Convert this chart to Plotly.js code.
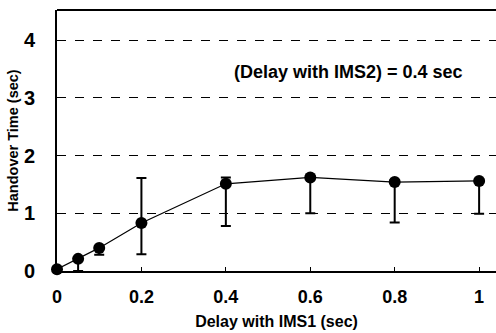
<!DOCTYPE html>
<html><head><meta charset="utf-8">
<script src="https://cdn.plot.ly/plotly-3.0.1.min.js"></script>
<style>html,body{margin:0;padding:0;background:#fff}#chart{width:496px;height:333px}</style>
</head><body><div id="chart"></div>
<script>
var delayIMS1 = [0, 0.05, 0.1, 0.2, 0.4, 0.6, 0.8, 1.0];
var handoverTime = [0.03, 0.21, 0.40, 0.83, 1.51, 1.62, 1.54, 1.56];
var errPlus = [0.0, 0.03, 0.02, 0.78, 0.11, 0.03, 0.03, 0.03];
var errMinus = [0.03, 0.21, 0.12, 0.54, 0.73, 0.62, 0.70, 0.57];
var xTickVals = [0, 0.2, 0.4, 0.6, 0.8, 1];
var xTickText = ['0', '0.2', '0.4', '0.6', '0.8', '1'];
var yTickVals = [0, 1, 2, 3, 4];
var noteText = '(Delay with IMS2) = 0.4 sec';

var font = 'Liberation Sans, Arial, sans-serif';
var trace = {
  x: delayIMS1, y: handoverTime, type: 'scatter', mode: 'lines+markers',
  line: {color: '#000', width: 1.2},
  marker: {color: '#000', size: 12},
  error_y: {type: 'data', symmetric: false, array: errPlus, arrayminus: errMinus,
            color: '#000', thickness: 2, width: 5},
  cliponaxis: false, showlegend: false
};
var layout = {
  width: 496, height: 333,
  margin: {l: 57, r: 0, t: 10, b: 62},
  paper_bgcolor: '#fff', plot_bgcolor: '#fff',
  font: {family: font, color: '#000'},
  xaxis: {
    range: [0, 1.04], tickvals: xTickVals, ticktext: xTickText,
    showgrid: false, zeroline: false, showline: true, linecolor: '#000', linewidth: 2,
    ticks: 'inside', ticklen: 4, tickcolor: '#000', mirror: false,
    ticklabelstandoff: 8,
    tickfont: {size: 18, family: font, weight: 'bold'},
    title: {text: '<b>Delay with IMS1 (sec)</b>', font: {size: 16, family: font}, standoff: 10}
  },
  yaxis: {
    range: [0, 4.52], tickvals: yTickVals,
    showgrid: true, gridcolor: '#000', griddash: 'dash', gridwidth: 1,
    zeroline: false, showline: true, linecolor: '#000', linewidth: 2,
    ticks: '', ticklabelstandoff: 16,
    tickfont: {size: 20, family: font, weight: 'bold'},
    title: {text: '<b>Handover Time (sec)</b>', font: {size: 14.5, family: font}, standoff: 2}
  },
  shapes: [{type: 'line', xref: 'paper', yref: 'paper', x0: 0, x1: 1, y0: 1, y1: 1,
            line: {color: '#000', width: 2}}],
  annotations: [{
    text: '<b>' + noteText + '</b>', xref: 'x', yref: 'y', x: 0.69, y: 3.45,
    showarrow: false, font: {size: 18, family: font}
  }]
};
Plotly.newPlot('chart', [trace], layout, {displayModeBar: false, staticPlot: true});
</script></body></html>
